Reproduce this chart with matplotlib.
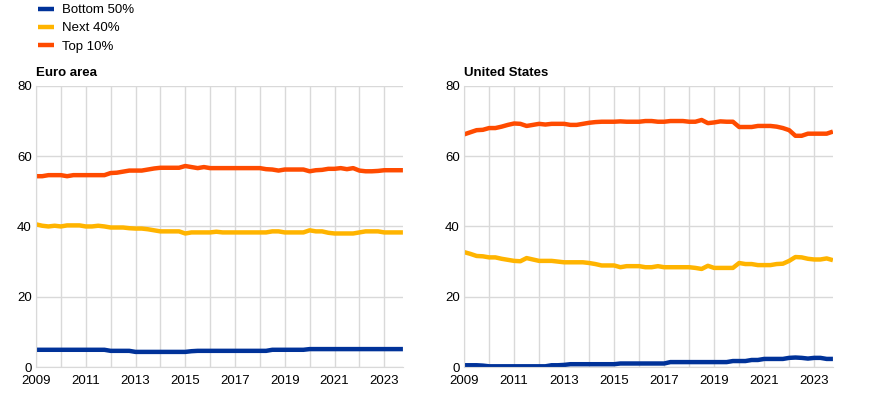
import matplotlib.pyplot as plt
import numpy as np

plt.rcParams['font.family'] = ['Liberation Sans', 'DejaVu Sans']

# quarterly, 2009Q1 - 2023Q4
quarters = 2009 + np.arange(60) / 4

ea_bottom50 = [4.9] * 12 + [4.6, 4.6, 4.6, 4.6,
               4.3, 4.3, 4.3, 4.3, 4.3, 4.3, 4.3, 4.3,
               4.3, 4.5, 4.6, 4.6] + [4.6] * 10 + [4.9] * 6 + [5.1] * 16
ea_next40 = [40.6, 40.2, 40.0, 40.2, 40.0, 40.3, 40.3, 40.3,
             40.0, 40.0, 40.2, 40.0, 39.7, 39.7, 39.7, 39.5,
             39.4, 39.4, 39.2, 38.9, 38.6, 38.6, 38.6, 38.6,
             38.0, 38.3, 38.3, 38.3, 38.3, 38.5, 38.3, 38.3,
             38.3, 38.3, 38.3, 38.3, 38.3, 38.3, 38.6, 38.6,
             38.3, 38.3, 38.3, 38.3, 38.9, 38.6, 38.6, 38.2,
             38.0, 38.0, 38.0, 38.0, 38.3, 38.6, 38.6, 38.6,
             38.3, 38.3, 38.3, 38.3]
ea_top10 = [54.3, 54.3, 54.6, 54.6, 54.6, 54.3, 54.6, 54.6,
            54.6, 54.6, 54.6, 54.6, 55.2, 55.3, 55.6, 55.9,
            55.9, 55.9, 56.2, 56.5, 56.7, 56.7, 56.7, 56.7,
            57.2, 56.9, 56.6, 56.9, 56.6, 56.6, 56.6, 56.6,
            56.6, 56.6, 56.6, 56.6, 56.6, 56.3, 56.2, 55.9,
            56.2, 56.2, 56.2, 56.2, 55.7, 56.0, 56.1, 56.4,
            56.4, 56.6, 56.3, 56.6, 55.9, 55.7, 55.7, 55.8,
            56.0, 56.0, 56.0, 56.0]

us_bottom50 = [0.5, 0.5, 0.5, 0.4, 0.2, 0.2, 0.2, 0.2,
               0.2, 0.2, 0.2, 0.2, 0.2, 0.2, 0.5, 0.5,
               0.6, 0.8, 0.8, 0.8, 0.8, 0.8, 0.8, 0.8,
               0.8, 1.0, 1.0, 1.0, 1.0, 1.0, 1.0, 1.0,
               1.0, 1.4, 1.4, 1.4, 1.4, 1.4, 1.4, 1.4,
               1.4, 1.4, 1.4, 1.7, 1.7, 1.7, 2.0, 2.0,
               2.3, 2.3, 2.3, 2.3, 2.6, 2.7, 2.6, 2.4,
               2.6, 2.6, 2.3, 2.3]
us_next40 = [32.7, 32.2, 31.6, 31.5, 31.2, 31.2, 30.8, 30.5,
             30.2, 30.1, 31.0, 30.6, 30.2, 30.2, 30.2, 30.0,
             29.8, 29.8, 29.8, 29.8, 29.6, 29.3, 28.9, 28.9,
             28.9, 28.4, 28.7, 28.7, 28.7, 28.4, 28.4, 28.7,
             28.4, 28.4, 28.4, 28.4, 28.4, 28.2, 27.9, 28.8,
             28.2, 28.2, 28.2, 28.2, 29.6, 29.3, 29.3, 29.0,
             29.0, 29.0, 29.3, 29.4, 30.2, 31.3, 31.2, 30.8,
             30.6, 30.6, 30.9, 30.4]
us_top10 = [66.2, 66.8, 67.4, 67.5, 68.0, 68.0, 68.4, 68.9,
            69.3, 69.2, 68.6, 68.9, 69.2, 69.0, 69.2, 69.2,
            69.2, 68.9, 68.9, 69.2, 69.5, 69.7, 69.8, 69.8,
            69.8, 69.9, 69.8, 69.8, 69.8, 70.0, 70.0, 69.8,
            69.8, 70.0, 70.0, 70.0, 69.8, 69.8, 70.3, 69.4,
            69.6, 69.9, 69.8, 69.8, 68.3, 68.3, 68.3, 68.6,
            68.6, 68.6, 68.4, 68.0, 67.4, 65.8, 65.8, 66.4,
            66.4, 66.4, 66.4, 67.0]

years = list(range(2009, 2024))
labels = ['Bottom 50%', 'Next 40%', 'Top 10%']
colors = ['#003299', '#FFB400', '#FF4B00']

fig = plt.figure(figsize=(8.74, 3.94), dpi=100)
ax1 = fig.add_axes([0.0412, 0.0685, 0.4198, 0.7135])
ax2 = fig.add_axes([0.531, 0.0685, 0.422, 0.7135])

panels = [(ax1, 'Euro area', [ea_bottom50, ea_next40, ea_top10]),
          (ax2, 'United States', [us_bottom50, us_next40, us_top10])]

for ax, title, series in panels:
    for s, c, lab in zip(series, colors, labels):
        ax.plot(quarters, s, color=c, lw=3.2, label=lab, solid_capstyle='butt')
    ax.set_xlim(2009, 2023.75)
    ax.set_ylim(0, 80)
    ax.set_yticks([0, 20, 40, 60, 80])
    ax.set_xticks(years)
    ax.set_xticklabels([str(y) if (y - 2009) % 2 == 0 else '' for y in years])
    ax.grid(True, color='#d9d9d9', lw=1)
    ax.set_axisbelow(True)
    for sp in ['top', 'right']:
        ax.spines[sp].set_visible(False)
    for sp in ['left', 'bottom']:
        ax.spines[sp].set_color('#d9d9d9')
    ax.tick_params(length=0, labelsize=9.5)
    ax.tick_params(axis='x', pad=6)
    ax.tick_params(axis='y', pad=3)
    ax.text(0.0, 1.025, title, transform=ax.transAxes, fontsize=9.5,
            fontweight='bold', ha='left', va='bottom')

h, l = ax1.get_legend_handles_labels()
fig.legend(h, l, loc='upper left', bbox_to_anchor=(0.03, 1.02), frameon=False,
           fontsize=9.5, handlelength=1.2, handletextpad=0.6, labelspacing=0.45)

fig.savefig('out.png', dpi=100)
